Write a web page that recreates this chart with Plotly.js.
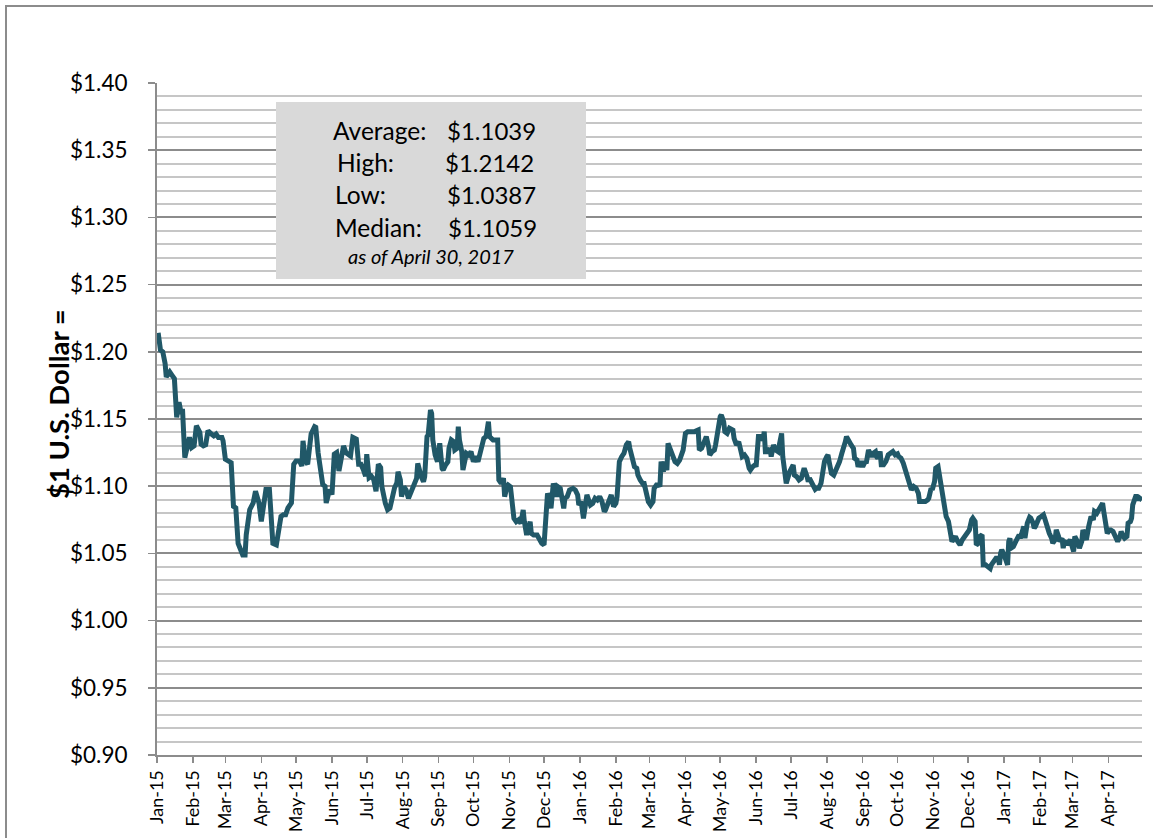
<!DOCTYPE html>
<html>
<head>
<meta charset="utf-8">
<script src="https://cdn.plot.ly/plotly-3.0.1.min.js"></script>
<style>
  html, body { margin: 0; padding: 0; background: #ffffff; }
  #chart { width: 1153px; height: 838px; }
</style>
</head>
<body>
<div id="chart"></div>
<script>
// ---- Data: EUR per $1 USD ----
const dates = [
  "2015-01-02","2015-01-04","2015-01-06","2015-01-08","2015-01-09","2015-01-12","2015-01-14","2015-01-16","2015-01-18","2015-01-20","2015-01-22","2015-01-23","2015-01-25","2015-01-27","2015-01-29","2015-01-31",
  "2015-02-02","2015-02-04","2015-02-07","2015-02-08","2015-02-10","2015-02-12","2015-02-14","2015-02-17","2015-02-19","2015-02-21","2015-02-23","2015-02-26","2015-02-27",
  "2015-03-01","2015-03-04","2015-03-06","2015-03-08","2015-03-10","2015-03-12","2015-03-14","2015-03-16","2015-03-18","2015-03-19","2015-03-22","2015-03-23","2015-03-25","2015-03-27","2015-03-29","2015-03-30",
  "2015-04-01","2015-04-03","2015-04-05","2015-04-08","2015-04-09","2015-04-11","2015-04-14","2015-04-16","2015-04-18","2015-04-20","2015-04-22","2015-04-24","2015-04-27","2015-04-29",
  "2015-05-01","2015-05-04","2015-05-06","2015-05-07","2015-05-09","2015-05-11","2015-05-12","2015-05-14","2015-05-17","2015-05-18","2015-05-20","2015-05-22","2015-05-24","2015-05-26","2015-05-27","2015-05-30",
  "2015-06-01","2015-06-03","2015-06-05","2015-06-07","2015-06-09","2015-06-11","2015-06-13","2015-06-15","2015-06-17","2015-06-19","2015-06-22","2015-06-24","2015-06-26","2015-06-28","2015-06-30",
  "2015-07-01","2015-07-03","2015-07-05","2015-07-07","2015-07-09","2015-07-11","2015-07-13","2015-07-14","2015-07-17","2015-07-19","2015-07-21","2015-07-23","2015-07-25","2015-07-27","2015-07-28","2015-07-30","2015-07-31",
  "2015-08-02","2015-08-04","2015-08-06","2015-08-08","2015-08-10","2015-08-13","2015-08-14","2015-08-15","2015-08-17","2015-08-19","2015-08-20","2015-08-22","2015-08-23","2015-08-25","2015-08-26","2015-08-27","2015-08-29","2015-08-31",
  "2015-09-02","2015-09-04","2015-09-05","2015-09-07","2015-09-09","2015-09-10","2015-09-12","2015-09-14","2015-09-15","2015-09-17","2015-09-18","2015-09-19","2015-09-21","2015-09-22","2015-09-24","2015-09-25","2015-09-27","2015-09-29",
  "2015-10-01","2015-10-03","2015-10-05","2015-10-07","2015-10-08","2015-10-10","2015-10-12","2015-10-14","2015-10-15","2015-10-18","2015-10-20","2015-10-22","2015-10-23","2015-10-25","2015-10-27","2015-10-28","2015-10-30","2015-10-31",
  "2015-11-02","2015-11-03","2015-11-05","2015-11-07","2015-11-09","2015-11-11","2015-11-13","2015-11-14","2015-11-16","2015-11-17","2015-11-19","2015-11-20","2015-11-22","2015-11-25","2015-11-27","2015-11-29",
  "2015-12-01","2015-12-03","2015-12-04","2015-12-06","2015-12-07","2015-12-09","2015-12-11","2015-12-12","2015-12-13","2015-12-15","2015-12-16","2015-12-18","2015-12-19","2015-12-21","2015-12-23","2015-12-26","2015-12-28","2015-12-30","2015-12-31",
  "2016-01-02","2016-01-04","2016-01-05","2016-01-07","2016-01-08","2016-01-10","2016-01-12","2016-01-14","2016-01-16","2016-01-18","2016-01-20","2016-01-22","2016-01-23","2016-01-25","2016-01-27","2016-01-28","2016-01-30",
  "2016-02-01","2016-02-02","2016-02-04","2016-02-06","2016-02-08","2016-02-10","2016-02-12","2016-02-13","2016-02-15","2016-02-17","2016-02-19","2016-02-20","2016-02-22","2016-02-24","2016-02-25","2016-02-27","2016-02-29",
  "2016-03-02","2016-03-04","2016-03-05","2016-03-07","2016-03-09","2016-03-10","2016-03-11","2016-03-13","2016-03-14","2016-03-16","2016-03-17","2016-03-19","2016-03-21","2016-03-23","2016-03-25","2016-03-27","2016-03-30",
  "2016-04-01","2016-04-03","2016-04-06","2016-04-09","2016-04-12","2016-04-13","2016-04-15","2016-04-16","2016-04-19","2016-04-21","2016-04-22","2016-04-24","2016-04-26","2016-04-27","2016-04-29",
  "2016-05-01","2016-05-02","2016-05-04","2016-05-05","2016-05-07","2016-05-09","2016-05-12","2016-05-13","2016-05-15","2016-05-17","2016-05-19","2016-05-20","2016-05-22","2016-05-24","2016-05-26","2016-05-27","2016-05-29","2016-05-31",
  "2016-06-01","2016-06-03","2016-06-05","2016-06-07","2016-06-08","2016-06-09","2016-06-11","2016-06-13","2016-06-14","2016-06-16","2016-06-18","2016-06-20","2016-06-21","2016-06-23","2016-06-24","2016-06-26","2016-06-27","2016-06-30",
  "2016-07-02","2016-07-03","2016-07-04","2016-07-06","2016-07-08","2016-07-10","2016-07-12","2016-07-13","2016-07-15","2016-07-16","2016-07-17","2016-07-19","2016-07-20","2016-07-22","2016-07-23","2016-07-25","2016-07-27","2016-07-29","2016-07-30",
  "2016-08-01","2016-08-02","2016-08-03","2016-08-05","2016-08-07","2016-08-09","2016-08-11","2016-08-12","2016-08-14","2016-08-15","2016-08-17","2016-08-18","2016-08-20","2016-08-22","2016-08-24","2016-08-25","2016-08-27","2016-08-28","2016-08-30","2016-08-31",
  "2016-09-01","2016-09-03","2016-09-04","2016-09-06","2016-09-07","2016-09-09","2016-09-10","2016-09-12","2016-09-13","2016-09-14","2016-09-16","2016-09-17","2016-09-19","2016-09-21","2016-09-23","2016-09-25","2016-09-27","2016-09-29",
  "2016-10-01","2016-10-02","2016-10-04","2016-10-06","2016-10-07","2016-10-09","2016-10-10","2016-10-12","2016-10-13","2016-10-15","2016-10-17","2016-10-19","2016-10-20","2016-10-23","2016-10-25","2016-10-27","2016-10-28","2016-10-30","2016-10-31",
  "2016-11-02","2016-11-03","2016-11-05","2016-11-06","2016-11-08","2016-11-09","2016-11-11","2016-11-12","2016-11-14","2016-11-15","2016-11-17","2016-11-18","2016-11-20","2016-11-22","2016-11-24","2016-11-26","2016-11-28","2016-11-30",
  "2016-12-02","2016-12-04","2016-12-05","2016-12-07","2016-12-08","2016-12-10","2016-12-11","2016-12-13","2016-12-14","2016-12-16","2016-12-18","2016-12-20","2016-12-21","2016-12-23","2016-12-25","2016-12-27","2016-12-28","2016-12-29","2016-12-30",
  "2017-01-01","2017-01-03","2017-01-04","2017-01-05","2017-01-06","2017-01-07","2017-01-09","2017-01-11","2017-01-13","2017-01-14","2017-01-15","2017-01-17","2017-01-18","2017-01-19","2017-01-21","2017-01-23","2017-01-24","2017-01-26","2017-01-27","2017-01-28","2017-01-30","2017-01-31",
  "2017-02-02","2017-02-04","2017-02-05","2017-02-07","2017-02-08","2017-02-09","2017-02-11","2017-02-12","2017-02-14","2017-02-15","2017-02-17","2017-02-18","2017-02-20","2017-02-21","2017-02-22","2017-02-24","2017-02-25","2017-02-27","2017-02-28",
  "2017-03-02","2017-03-03","2017-03-04","2017-03-06","2017-03-07","2017-03-09","2017-03-10","2017-03-12","2017-03-13","2017-03-15","2017-03-16","2017-03-17","2017-03-19","2017-03-20","2017-03-22","2017-03-23","2017-03-25","2017-03-26","2017-03-27","2017-03-28","2017-03-30","2017-03-31",
  "2017-04-02","2017-04-03","2017-04-05","2017-04-07","2017-04-08","2017-04-09","2017-04-11","2017-04-12","2017-04-14","2017-04-15","2017-04-17","2017-04-18","2017-04-20","2017-04-21","2017-04-22","2017-04-24","2017-04-25","2017-04-27","2017-04-28","2017-04-30"
];
const rates = [
  1.2142,1.2013,1.2000,1.1913,1.1813,1.1850,1.1825,1.1800,1.1513,1.1625,1.1538,1.1575,1.1213,1.1275,1.1363,1.1288,
  1.1300,1.1450,1.1400,1.1313,1.1300,1.1308,1.1413,1.1388,1.1375,1.1388,1.1363,1.1363,1.1338,
  1.1200,1.1188,1.1175,1.0850,1.0838,1.0575,1.0538,1.0488,1.0488,1.0638,1.0825,1.0838,1.0875,1.0963,1.0913,1.0875,
  1.0738,1.0838,1.0975,1.0975,1.0800,1.0575,1.0563,1.0675,1.0775,1.0788,1.0788,1.0838,1.0875,1.1163,
  1.1188,1.1188,1.1150,1.1338,1.1188,1.1163,1.1238,1.1388,1.1443,1.1438,1.1250,1.1125,1.1013,1.1000,1.0875,1.0975,
  1.0938,1.1238,1.1250,1.1113,1.1238,1.1300,1.1250,1.1238,1.1225,1.1363,1.1350,1.1163,1.1163,1.1125,1.1075,
  1.1238,1.1063,1.1075,1.1050,1.0963,1.1163,1.1138,1.1000,1.0875,1.0825,1.0838,1.0938,1.0988,1.1025,1.1108,1.1046,1.0922,
  1.0996,1.0971,1.0909,1.0947,1.0984,1.1058,1.1170,1.1120,1.1071,1.1034,1.1071,1.1369,1.1381,1.1567,1.1542,1.1344,1.1232,1.1182,
  1.1319,1.1133,1.1120,1.1158,1.1182,1.1282,1.1344,1.1331,1.1269,1.1282,1.1443,1.1344,1.1257,1.1120,1.1195,1.1245,1.1232,1.1257,
  1.1182,1.1220,1.1182,1.1245,1.1282,1.1356,1.1369,1.1480,1.1369,1.1344,1.1344,1.1344,1.1046,1.1021,1.1059,1.0922,1.0996,1.1009,
  1.0996,1.0909,1.0761,1.0736,1.0749,1.0724,1.0823,1.0736,1.0637,1.0674,1.0736,1.0649,1.0637,1.0637,1.0600,1.0575,
  1.0563,1.0773,1.0947,1.0897,1.0835,1.1021,1.0971,1.0922,1.0996,1.0984,1.0935,1.0835,1.0910,1.0922,1.0971,1.0984,1.0971,1.0935,1.0860,
  1.0885,1.0761,1.0835,1.0935,1.0910,1.0860,1.0873,1.0910,1.0897,1.0922,1.0885,1.0811,1.0823,1.0860,1.0897,1.0935,1.0848,
  1.0873,1.0922,1.1182,1.1220,1.1245,1.1307,1.1331,1.1282,1.1195,1.1145,1.1133,1.1083,1.1046,1.1021,1.1034,1.0935,1.0885,
  1.0860,1.0885,1.0984,1.1009,1.1009,1.0997,1.1183,1.1108,1.1183,1.1120,1.1319,1.1269,1.1220,1.1183,1.1170,1.1195,1.1269,
  1.1393,1.1406,1.1406,1.1406,1.1418,1.1269,1.1282,1.1307,1.1369,1.1294,1.1232,1.1257,1.1269,1.1307,1.1443,
  1.1517,1.1530,1.1480,1.1406,1.1393,1.1431,1.1418,1.1356,1.1307,1.1331,1.1245,1.1220,1.1232,1.1207,1.1133,1.1120,1.1145,1.1158,
  1.1145,1.1369,1.1369,1.1344,1.1406,1.1257,1.1257,1.1282,1.1220,1.1307,1.1269,1.1257,1.1307,1.1393,1.1220,1.1096,1.1021,1.1108,
  1.1158,1.1158,1.1083,1.1071,1.1046,1.1059,1.1120,1.1120,1.1071,1.1034,1.1059,1.1021,1.1009,1.0977,1.0984,1.0984,1.1021,1.1170,1.1183,
  1.1220,1.1232,1.1183,1.1096,1.1083,1.1120,1.1170,1.1183,1.1245,1.1269,1.1331,1.1369,1.1331,1.1307,1.1282,1.1207,1.1195,1.1145,1.1183,1.1145,
  1.1145,1.1183,1.1170,1.1269,1.1257,1.1220,1.1245,1.1257,1.1220,1.1207,1.1258,1.1159,1.1159,1.1184,1.1233,1.1246,1.1258,1.1233,
  1.1241,1.1221,1.1208,1.1171,1.1146,1.1097,1.1047,1.1010,1.0973,1.0998,1.0985,1.0948,1.0886,1.0886,1.0886,1.0898,1.0911,1.0985,1.0973,
  1.1035,1.1134,1.1146,1.1097,1.1022,1.0923,1.0849,1.0774,1.0737,1.0675,1.0588,1.0601,1.0626,1.0588,1.0563,1.0601,1.0626,1.0663,
  1.0675,1.0750,1.0762,1.0737,1.0563,1.0576,1.0626,1.0638,1.0415,1.0415,1.0402,1.0387,1.0415,1.0440,1.0464,1.0464,1.0415,1.0502,1.0526,
  1.0489,1.0415,1.0415,1.0588,1.0613,1.0539,1.0551,1.0588,1.0626,1.0638,1.0613,1.0700,1.0700,1.0613,1.0725,1.0769,1.0762,1.0725,1.0688,1.0700,1.0737,1.0762,
  1.0774,1.0787,1.0762,1.0700,1.0688,1.0650,1.0613,1.0576,1.0601,1.0675,1.0626,1.0588,1.0613,1.0539,1.0588,1.0576,1.0576,1.0601,1.0576,
  1.0514,1.0626,1.0613,1.0576,1.0539,1.0588,1.0675,1.0626,1.0601,1.0700,1.0762,1.0774,1.0750,1.0812,1.0799,1.0812,1.0836,1.0861,1.0874,1.0812,1.0688,1.0650,
  1.0675,1.0675,1.0663,1.0626,1.0588,1.0588,1.0626,1.0663,1.0626,1.0613,1.0626,1.0725,1.0737,1.0762,1.0861,1.0923,1.0935,1.0898,1.0911,1.0898
];

// Summary statistics shown in the grey box
const statLabels = ["Average:", "High:", "Low:", "Median:"];
const statValues = ["$1.1039", "$1.2142", "$1.0387", "$1.1059"];
const asOfNote = "as of April 30, 2017";
const yAxisTitle = "$1 U.S. Dollar =";

// ---- Layout helpers (pixel -> paper, plot area 157..1142 x 83..755) ----
const PL = 157, PR = 1142, PT = 83, PB = 755;
const px = v => (v - PL) / (PR - PL);
const py = v => (PB - v) / (PB - PT);

const FONT = "Lato, Carlito, 'Open Sans', sans-serif";

const trace = {
  x: dates,
  y: rates,
  type: "scatter",
  mode: "lines",
  line: { color: "#215868", width: 5 },
  hoverinfo: "skip"
};

const statRowsY = [130, 162, 195, 227];
const labelX = [331, 335, 333, 333];
const valueX = [445, 443, 445, 446];

const annotations = [];
statLabels.forEach((t, i) => {
  annotations.push({
    xref: "paper", yref: "paper", x: px(labelX[i]), y: py(statRowsY[i]),
    xanchor: "left", yanchor: "middle", text: t, showarrow: false,
    font: { family: FONT, size: 24.5, color: "#000000" }
  });
  annotations.push({
    xref: "paper", yref: "paper", x: px(valueX[i]), y: py(statRowsY[i]),
    xanchor: "left", yanchor: "middle", text: statValues[i], showarrow: false,
    font: { family: FONT, size: 24, color: "#000000" }
  });
});
annotations.push({
  xref: "paper", yref: "paper", x: px(431), y: py(256),
  xanchor: "center", yanchor: "middle", text: "<i>" + asOfNote + "</i>", showarrow: false,
  font: { family: FONT, size: 20, color: "#000000" }
});
// Y-axis title placed as rotated annotation
annotations.push({
  xref: "paper", yref: "paper", x: px(58), y: py(404),
  xanchor: "center", yanchor: "middle", textangle: -90,
  text: "<b>" + yAxisTitle + "</b>", showarrow: false,
  font: { family: FONT, size: 27.5, color: "#000000" }
});

const layout = {
  width: 1153,
  height: 838,
  margin: { l: PL, r: 1153 - PR, t: PT, b: 838 - PB },
  paper_bgcolor: "#ffffff",
  plot_bgcolor: "#ffffff",
  showlegend: false,
  font: { family: FONT, color: "#000000" },
  xaxis: {
    type: "date",
    range: ["2015-01-01", "2017-04-30"],
    tick0: "2015-01-01",
    dtick: "M1",
    tickformat: "%b-%y",
    tickangle: -90,
    ticks: "outside",
    ticklen: 6,
    tickwidth: 1.5,
    tickcolor: "#8c8c8c",
    showgrid: false,
    showline: true,
    linecolor: "#8c8c8c",
    linewidth: 2,
    zeroline: false,
    tickfont: { family: FONT, size: 18, color: "#000000" },
    fixedrange: true
  },
  yaxis: {
    range: [0.90, 1.40],
    tick0: 0.90,
    dtick: 0.05,
    tickprefix: "$",
    tickformat: ".2f",
    ticks: "outside",
    ticklen: 7,
    tickwidth: 1.5,
    tickcolor: "#8c8c8c",
    ticklabelstandoff: 16,
    showgrid: true,
    gridcolor: "#8c8c8c",
    gridwidth: 2,
    minor: { dtick: 0.01, showgrid: true, gridcolor: "#c6c6c6", gridwidth: 2, ticks: "" },
    showline: true,
    linecolor: "#8c8c8c",
    linewidth: 2,
    zeroline: false,
    tickfont: { family: FONT, size: 22.5, color: "#000000" },
    automargin: false,
    fixedrange: true
  },
  shapes: [
    { type: "rect", xref: "paper", yref: "paper",
      x0: px(276), x1: px(586), y0: py(279), y1: py(102),
      fillcolor: "#d9d9d9", line: { width: 0 }, layer: "above" },
    { type: "rect", xref: "paper", yref: "paper",
      x0: px(6), x1: px(1200), y0: py(900), y1: py(6),
      fillcolor: "rgba(0,0,0,0)", line: { color: "#8c8c8c", width: 2 }, layer: "above" }
  ],
  annotations: annotations
};

Plotly.newPlot("chart", [trace], layout, { staticPlot: true, displayModeBar: false });
</script>
</body>
</html>
